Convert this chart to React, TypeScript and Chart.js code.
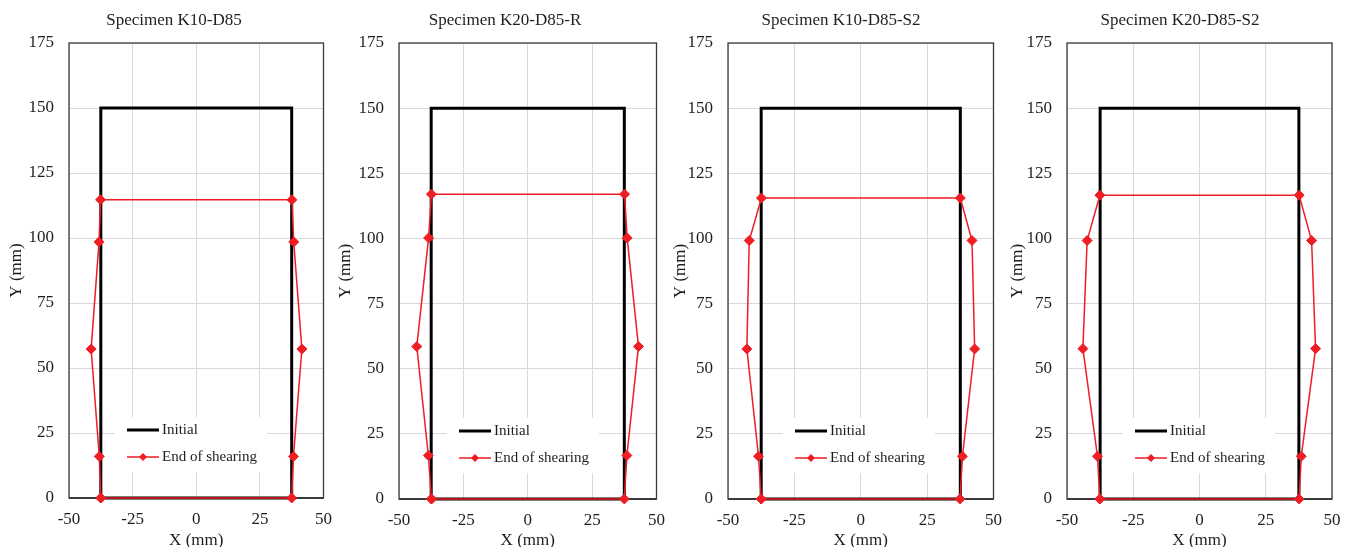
import React, { useEffect, useRef } from 'react';
import { Chart, registerables } from 'chart.js';

Chart.register(...registerables);

// ---------- data ----------
const panelTitles = ['Specimen K10-D85', 'Specimen K20-D85-R', 'Specimen K10-D85-S2', 'Specimen K20-D85-S2'];
const seriesLabels = ['Initial', 'End of shearing'];
const xAxisTitle = 'X (mm)';
const yAxisTitle = 'Y (mm)';
const xTicks = [-50, -25, 0, 25, 50];
const yTicks = [0, 25, 50, 75, 100, 125, 150, 175];

const initialX = [-37.5, -37.5, 37.5, 37.5, -37.5];
const initialY = [0, 150, 150, 0, 0];

const k10d85X = [-37.5, -38.1, -41.3, -38.2, -37.6, 37.6, 38.3, 41.5, 38.2, 37.5, -37.5];
const k10d85Y = [0, 16.0, 57.3, 98.5, 114.7, 114.7, 98.5, 57.3, 16.0, 0, 0];

const k20d85rX = [-37.4, -38.6, -43.1, -38.5, -37.4, 37.6, 38.6, 43.0, 38.5, 37.5, -37.4];
const k20d85rY = [0, 16.7, 58.5, 100.2, 117.0, 117.0, 100.2, 58.5, 16.7, 0, 0];

const k10d85s2X = [-37.5, -38.5, -42.9, -42.0, -37.4, 37.5, 41.9, 42.9, 38.3, 37.4, -37.5];
const k10d85s2Y = [0, 16.4, 57.6, 99.2, 115.5, 115.5, 99.2, 57.6, 16.4, 0, 0];

const k20d85s2X = [-37.6, -38.5, -44.0, -42.4, -37.6, 37.6, 42.3, 43.8, 38.4, 37.6, -37.6];
const k20d85s2Y = [0, 16.4, 57.7, 99.2, 116.6, 116.6, 99.2, 57.7, 16.4, 0, 0];

const panelXs = [k10d85X, k20d85rX, k10d85s2X, k20d85s2X];
const panelYs = [k10d85Y, k20d85rY, k10d85s2Y, k20d85s2Y];

// ---------- layout / style ----------
const panelLayouts = [
  { left: 5, width: 338, yAxisWidth: 64, padRight: 19, xAxisHeight: 49, legendLeft: 46 },
  { left: 334, width: 342, yAxisWidth: 65, padRight: 16, xAxisHeight: 48, legendLeft: 48 },
  { left: 669, width: 344, yAxisWidth: 59, padRight: 18, xAxisHeight: 48, legendLeft: 55 },
  { left: 1006, width: 348, yAxisWidth: 61, padRight: 22, xAxisHeight: 48, legendLeft: 56 },
];

const RED = 'rgb(238,30,36)';
const FONT = "'Liberation Serif', 'Times New Roman', serif";
const TEXT = '#1e1e1e';
const H = 547;

const framePlugin = {
  id: 'frame',
  beforeDatasetsDraw(chart: any) {
    const { ctx, chartArea: a } = chart;
    ctx.save();
    ctx.strokeStyle = '#3a3a3a';
    ctx.lineWidth = 1.3;
    ctx.strokeRect(a.left, a.top, a.right - a.left, a.bottom - a.top);
    ctx.lineWidth = 2;
    ctx.beginPath();
    ctx.moveTo(a.left, a.bottom);
    ctx.lineTo(a.right, a.bottom);
    ctx.stroke();
    ctx.restore();
  },
};

function makeLegendPlugin(legendLeft: number) {
  return {
    id: 'innerLegend',
    afterDatasetsDraw(chart: any) {
      const { ctx, chartArea: a } = chart;
      const bx = a.left + legendLeft;
      const by = a.bottom - 81;
      ctx.save();
      ctx.fillStyle = '#ffffff';
      ctx.fillRect(bx, by, 152, 55);
      const rows = [a.bottom - 68, a.bottom - 41];
      const ds = chart.data.datasets;
      ds.forEach((d: any, i: number) => {
        const y = rows[i];
        ctx.strokeStyle = d.borderColor;
        ctx.lineWidth = d.borderWidth;
        ctx.beginPath();
        ctx.moveTo(bx + 12, y);
        ctx.lineTo(bx + 44, y);
        ctx.stroke();
        if (d.pointRadius > 0) {
          const cx = bx + 28;
          const r = 4;
          ctx.fillStyle = d.backgroundColor;
          ctx.beginPath();
          ctx.moveTo(cx, y - r);
          ctx.lineTo(cx + r, y);
          ctx.lineTo(cx, y + r);
          ctx.lineTo(cx - r, y);
          ctx.closePath();
          ctx.fill();
        }
        ctx.fillStyle = TEXT;
        ctx.font = `15px ${FONT}`;
        ctx.textBaseline = 'middle';
        ctx.textAlign = 'left';
        ctx.fillText(d.label, bx + 47, y);
      });
      ctx.restore();
    },
  };
}

function Panel({ index }: { index: number }) {
  const ref = useRef<HTMLCanvasElement>(null);
  const lay = panelLayouts[index];
  useEffect(() => {
    const toPts = (xs: number[], ys: number[]) => xs.map((x, i) => ({ x, y: ys[i] }));
    const chart = new Chart(ref.current as HTMLCanvasElement, {
      type: 'scatter',
      data: {
        datasets: [
          {
            label: seriesLabels[0],
            data: toPts(initialX, initialY),
            showLine: true,
            borderColor: '#000000',
            backgroundColor: '#000000',
            borderWidth: 3,
            pointRadius: 0,
            tension: 0,
            clip: false,
            order: 2,
          },
          {
            label: seriesLabels[1],
            data: toPts(panelXs[index], panelYs[index]),
            showLine: true,
            borderColor: RED,
            backgroundColor: RED,
            borderWidth: 1.5,
            pointStyle: 'rectRot',
            pointRadius: 5,
            pointBorderWidth: 1,
            pointBorderColor: RED,
            pointBackgroundColor: RED,
            tension: 0,
            clip: false,
            order: 1,
          },
        ],
      } as any,
      options: {
        animation: false,
        responsive: false,
        maintainAspectRatio: false,
        layout: { padding: 0 },
        plugins: {
          legend: { display: false },
          tooltip: { enabled: false },
          title: {
            display: true,
            text: panelTitles[index],
            color: TEXT,
            font: { family: FONT, size: 17, weight: 'normal' },
            padding: { top: 10, bottom: 12.6 },
          },
        },
        scales: {
          x: {
            type: 'linear',
            min: -50,
            max: 50,
            afterBuildTicks: (s: any) => { s.ticks = xTicks.map((v) => ({ value: v })); },
            afterFit: (s: any) => { s.height = lay.xAxisHeight; },
            ticks: { color: TEXT, font: { family: FONT, size: 17 }, padding: 11, maxRotation: 0 },
            grid: { color: '#d9d9d9', lineWidth: 1, drawTicks: false },
            border: { display: false },
            title: {
              display: true,
              text: xAxisTitle,
              color: TEXT,
              font: { family: FONT, size: 17 },
              padding: { top: 0, bottom: -4 },
            },
          },
          y: {
            type: 'linear',
            min: 0,
            max: 175,
            afterBuildTicks: (s: any) => { s.ticks = yTicks.map((v) => ({ value: v })); },
            afterFit: (s: any) => { s.width = lay.yAxisWidth; },
            ticks: { color: TEXT, font: { family: FONT, size: 17 }, padding: 15 },
            grid: { color: '#d9d9d9', lineWidth: 1, drawTicks: false },
            border: { display: false },
            title: {
              display: true,
              text: yAxisTitle,
              color: TEXT,
              font: { family: FONT, size: 17 },
              padding: { top: 1, bottom: 0 },
            },
          },
          spacer: {
            type: 'linear',
            position: 'right',
            display: true,
            afterFit: (s: any) => { s.width = lay.padRight; },
            ticks: { display: false },
            grid: { display: false, drawTicks: false },
            border: { display: false },
            title: { display: false },
          },
        },
      } as any,
      plugins: [framePlugin, makeLegendPlugin(lay.legendLeft)],
    });
    return () => chart.destroy();
  }, [index]);
  return (
    <canvas
      ref={ref}
      width={lay.width}
      height={H}
      style={{ position: 'absolute', left: lay.left, top: 0, width: lay.width, height: H }}
    />
  );
}

export default function App() {
  return (
    <div style={{ position: 'fixed', left: 0, top: 0, width: 1354, height: H, background: '#ffffff', overflow: 'hidden' }}>
      {panelTitles.map((_, i) => (
        <Panel key={i} index={i} />
      ))}
    </div>
  );
}
